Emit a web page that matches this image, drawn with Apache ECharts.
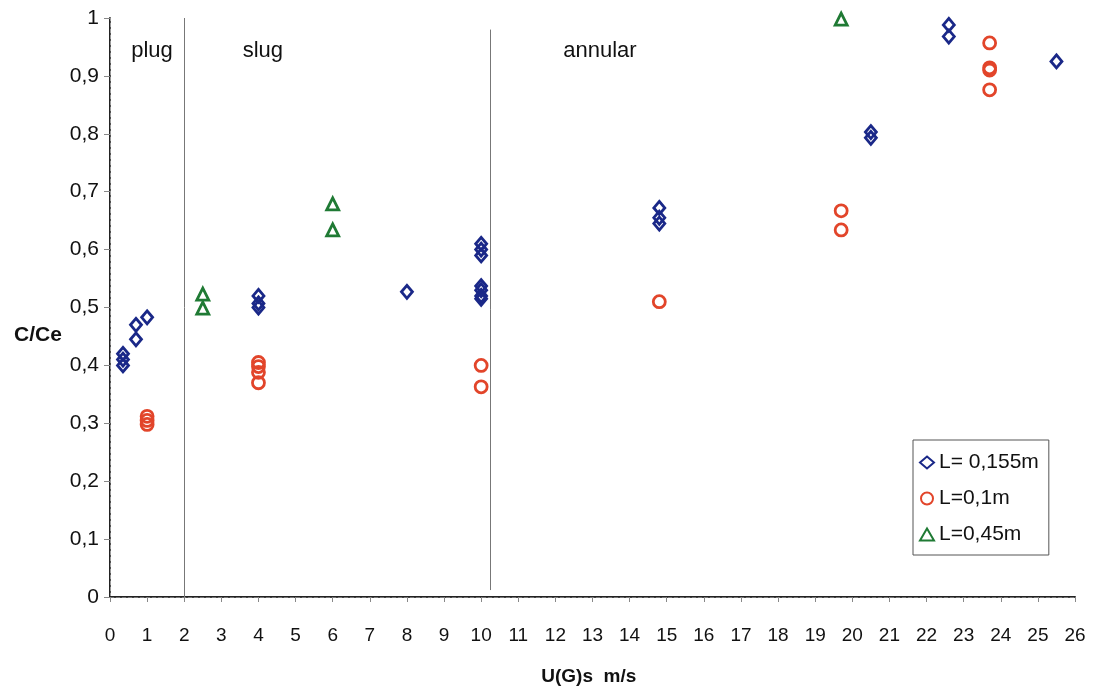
<!DOCTYPE html>
<html><head><meta charset="utf-8">
<script src="https://cdn.jsdelivr.net/npm/echarts@6/dist/echarts.min.js"></script>
<style>html,body{margin:0;padding:0;background:#fff}#c{width:1096px;height:692px}</style>
</head><body><div id="c"></div>
<script>
// ---- data ----
const seriesNames = ['L= 0,155m', 'L=0,1m', 'L=0,45m'];
const blueData = [
  [0.35,0.42],[0.35,0.41],[0.35,0.40],[0.7,0.47],[0.7,0.445],[1,0.483],
  [4,0.52],[4,0.507],[4,0.50],
  [8,0.527],
  [10,0.61],[10,0.60],[10,0.59],[10,0.537],[10,0.53],[10,0.52],[10,0.515],
  [14.8,0.672],[14.8,0.655],[14.8,0.645],
  [20.5,0.803],[20.5,0.793],
  [22.6,0.988],[22.6,0.968],
  [25.5,0.925]
];
const redData = [
  [1,0.312],[1,0.305],[1,0.298],
  [4,0.405],[4,0.398],[4,0.388],[4,0.37],
  [10,0.40],[10,0.363],
  [14.8,0.51],
  [19.7,0.667],[19.7,0.634],
  [23.7,0.957],[23.7,0.914],[23.7,0.91],[23.7,0.876]
];
const greenData = [
  [2.5,0.523],[2.5,0.499],
  [6,0.679],[6,0.634],
  [19.7,0.998]
];
const regimeBounds = [2, 10.25];
const regimeLabels = ['plug', 'slug', 'annular'];
const regimeLabelX = [1.13, 4.12, 13.2];
const regimeLabelY = 0.943;
const xName = 'U(G)s  m/s';
const yName = 'C/Ce';

const FONT = '"Liberation Sans", Arial, sans-serif';
const colors = ['#1a2888', '#e2452a', '#1f7a34'];
const symbols = ['diamond', 'circle', 'triangle'];
const sizes = [[11, 13], 12, 12];

const chart = echarts.init(document.getElementById('c'), null, {renderer: 'canvas'});
const fmtY = v => String(Math.round(v * 10) / 10).replace('.', ',');

function mkSeries(i, data) {
  return {
    name: seriesNames[i], type: 'scatter', data: data,
    symbol: symbols[i], symbolSize: sizes[i],
    itemStyle: {color: 'rgba(255,255,255,0)', borderColor: colors[i], borderWidth: 2.8, opacity: 1},
    z: 5
  };
}

const series = [mkSeries(0, blueData), mkSeries(1, redData), mkSeries(2, greenData)];
series[0].markLine = {
  silent: true, symbol: 'none', label: {show: false},
  lineStyle: {color: '#777', width: 1, type: 'solid'},
  data: [
    [{coord: [regimeBounds[0], 0]}, {coord: [regimeBounds[0], 1]}],
    [{coord: [regimeBounds[1], 0.012]}, {coord: [regimeBounds[1], 0.98]}]
  ]
};

chart.setOption({
  animation: false,
  backgroundColor: '#fff',
  textStyle: {fontFamily: FONT},
  grid: {left: 110, right: 21, top: 18, bottom: 95},
  legend: {
    orient: 'vertical', left: 913, top: 440,
    width: 150, height: 117,
    padding: [12, 10, 10, 6], itemGap: 15,
    itemWidth: 14, itemHeight: 12,
    borderColor: '#555', borderWidth: 1, backgroundColor: '#fff',
    textStyle: {fontSize: 21, color: '#111', fontFamily: FONT},
    data: seriesNames.map((n, i) => ({name: n, icon: symbols[i]}))
  },
  xAxis: [{
    type: 'value', min: 0, max: 26, interval: 1,
    axisLine: {show: true, onZero: false, lineStyle: {color: '#222', width: 2}},
    axisTick: {show: true, length: 5, lineStyle: {color: '#888'}},
    axisLabel: {fontSize: 19, color: '#111', margin: 29, fontFamily: FONT},
    splitLine: {show: false}
  }, {
    type: 'value', min: 0, max: 26, position: 'top',
    axisLine: {show: true, lineStyle: {color: '#777', width: 1, type: 'dashed'}},
    axisTick: {show: false}, axisLabel: {show: false}, splitLine: {show: false}
  }],
  yAxis: [{
    type: 'value', min: 0, max: 1, interval: 0.1,
    axisLine: {show: true, onZero: false, lineStyle: {color: '#222', width: 2}},
    axisTick: {show: true, length: 6, lineStyle: {color: '#888'}},
    axisLabel: {fontSize: 21, color: '#111', margin: 11, formatter: fmtY, fontFamily: FONT},
    splitLine: {show: false}
  }, {
    type: 'value', min: 0, max: 1, position: 'right',
    axisLine: {show: true, lineStyle: {color: '#999', width: 1, type: 'dashed'}},
    axisTick: {show: false}, axisLabel: {show: false}, splitLine: {show: false}
  }],
  series: series
});

const g = [];
regimeLabels.forEach((t, i) => {
  const p = chart.convertToPixel({xAxisIndex: 0, yAxisIndex: 0}, [regimeLabelX[i], regimeLabelY]);
  g.push({type: 'text', x: p[0], y: p[1], style: {text: t, font: '22px ' + FONT, fill: '#111', textAlign: 'center', textVerticalAlign: 'middle'}});
});
const pY = chart.convertToPixel({xAxisIndex: 0, yAxisIndex: 0}, [0, 0.453]);
g.push({type: 'text', x: 38, y: pY[1], style: {text: yName, font: 'bold 21px ' + FONT, fill: '#111', textAlign: 'center', textVerticalAlign: 'middle'}});
const pX = chart.convertToPixel({xAxisIndex: 0, yAxisIndex: 0}, [12.9, 0]);
g.push({type: 'text', x: pX[0], y: 677, style: {text: xName, font: 'bold 19px ' + FONT, fill: '#111', textAlign: 'center', textVerticalAlign: 'middle'}});
chart.setOption({graphic: g});
</script>
</body></html>
